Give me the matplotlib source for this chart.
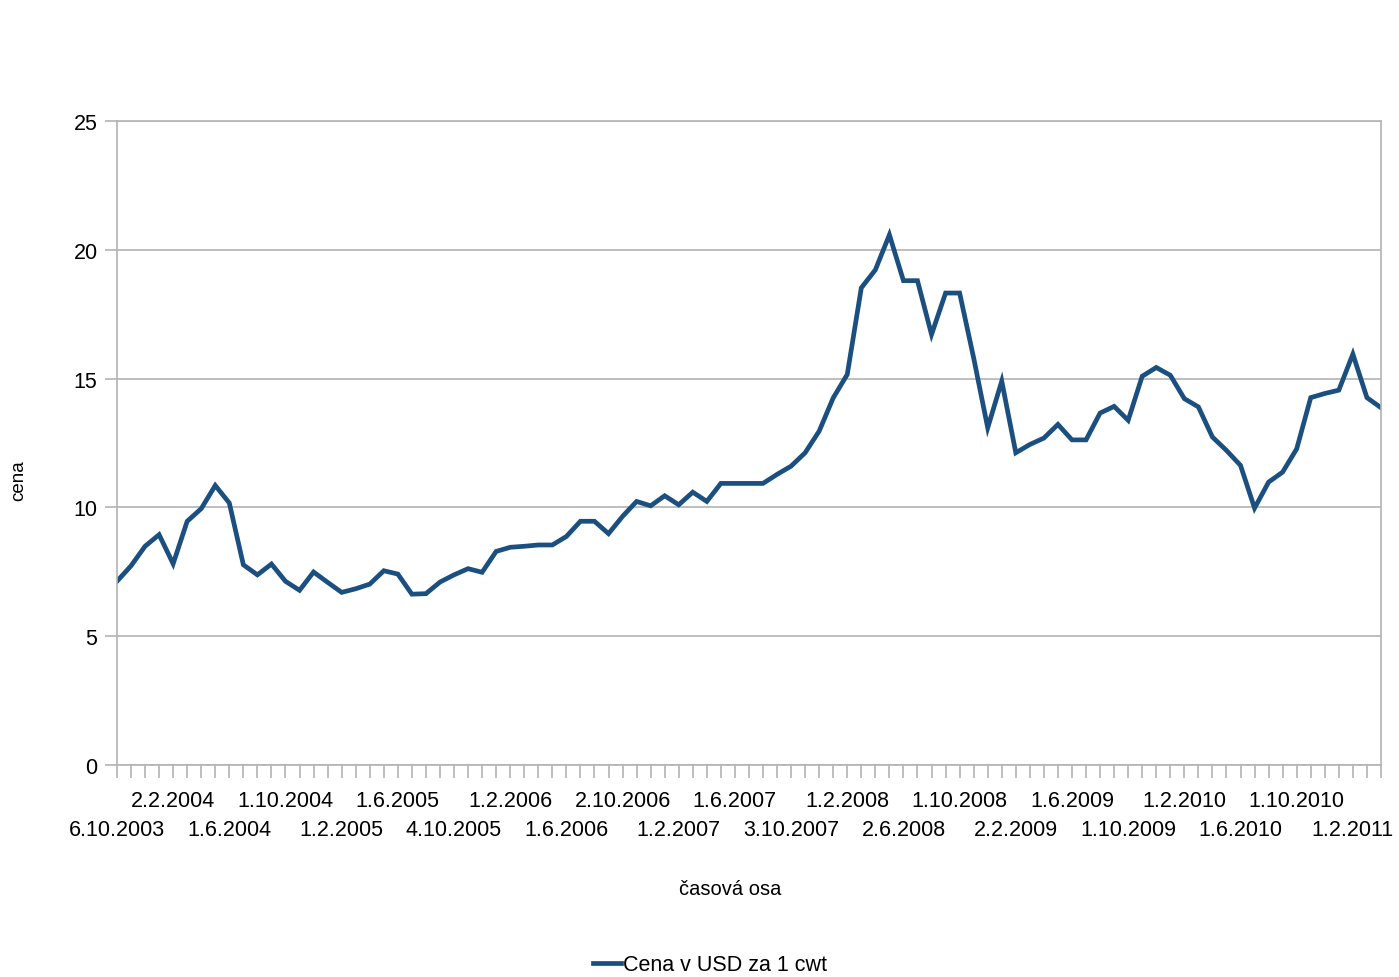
import matplotlib.pyplot as plt

plt.rcParams['font.family'] = ['Liberation Sans', 'DejaVu Sans']

# mesicni ceny (USD za 1 cwt), od 6.10.2003
ceny = [7.13, 7.73, 8.49, 8.94, 7.81, 9.46, 9.95, 10.85, 10.17, 7.77,
        7.38, 7.80, 7.13, 6.78, 7.49, 7.09, 6.70, 6.84, 7.02, 7.54,
        7.41, 6.63, 6.65, 7.10, 7.38, 7.62, 7.48, 8.29, 8.45, 8.49,
        8.54, 8.54, 8.87, 9.46, 9.46, 8.98, 9.65, 10.23, 10.06, 10.45,
        10.10, 10.59, 10.23, 10.93, 10.93, 10.93, 10.93, 11.28, 11.60, 12.12,
        12.96, 14.25, 15.16, 18.52, 19.22, 20.58, 18.80, 18.80, 16.71, 18.32,
        18.32, 15.80, 13.09, 14.90, 12.12, 12.44, 12.69, 13.22, 12.62, 12.62,
        13.66, 13.92, 13.38, 15.09, 15.43, 15.13, 14.22, 13.90, 12.73, 12.21,
        11.63, 9.97, 10.98, 11.37, 12.27, 14.26, 14.42, 14.55, 15.95, 14.26,
        13.87]

# popisky osy x (kazdy 4. mesic)
popisky = ['6.10.2003', '2.2.2004', '1.6.2004', '1.10.2004', '1.2.2005',
           '1.6.2005', '4.10.2005', '1.2.2006', '1.6.2006', '2.10.2006',
           '1.2.2007', '1.6.2007', '3.10.2007', '1.2.2008', '2.6.2008',
           '1.10.2008', '2.2.2009', '1.6.2009', '1.10.2009', '1.2.2010',
           '1.6.2010', '1.10.2010', '1.2.2011']

x = list(range(len(ceny)))
seda = '#b3b3b3'

fig = plt.figure(figsize=(13.99, 9.78), dpi=100)
ax = fig.add_axes([0.0836, 0.2168, 0.9035, 0.6585])

ax.plot(x, ceny, color='#1b4f80', lw=3.4, solid_joinstyle='miter',
        label='Cena v USD za 1 cwt')

ax.set_xlim(0, len(ceny) - 1)
ax.set_ylim(0, 25)
ax.set_yticks(range(0, 26, 5))
ax.yaxis.grid(True, color=seda, lw=1.2)
ax.set_axisbelow(True)

for s in ax.spines.values():
    s.set_color(seda)
    s.set_linewidth(1.2)

pozice = x[::4]

# horni rada popisku (liche)
ax.set_xticks(pozice[1::2])
ax.set_xticklabels(popisky[1::2])
ax.set_xticks(x, minor=True)
ax.tick_params(axis='x', which='both', direction='out', length=9,
               color=seda, width=1.2, labelsize=15.5, pad=9)
ax.tick_params(axis='y', direction='out', length=9, color=seda, width=1.2,
               labelsize=15.5, pad=5)

# dolni rada popisku (sude)
ax2 = ax.secondary_xaxis('bottom')
ax2.set_xticks(pozice[0::2])
ax2.set_xticklabels(popisky[0::2])
ax2.tick_params(axis='x', length=0, labelsize=15.5, pad=39)
ax2.spines['bottom'].set_visible(False)

fig.text(730 / 1399, 1 - 890 / 978, 'časová osa', fontsize=14.5,
         ha='center', va='center')
fig.text(19 / 1399, 1 - 481 / 978, 'cena', fontsize=13.5, rotation=90,
         ha='center', va='center')

fig.legend(loc='center', bbox_to_anchor=(710 / 1399, 1 - 966 / 978),
           frameon=False, fontsize=15.5, handlelength=1.3, handletextpad=0.1)

fig.savefig('out.png', dpi=100)
